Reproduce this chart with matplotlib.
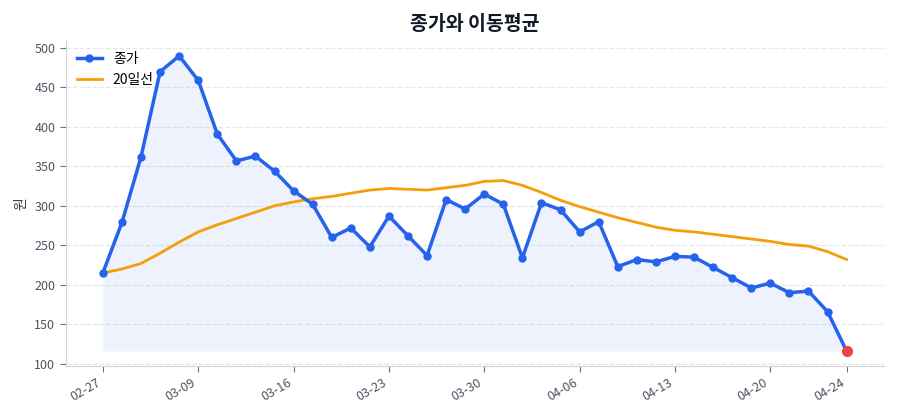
import matplotlib
matplotlib.use("Agg")
import matplotlib.pyplot as plt

plt.rcParams['font.family'] = ['Noto Sans CJK KR', 'DejaVu Sans']

dates = ["02-27", "03-03", "03-04", "03-05", "03-06",
         "03-09", "03-10", "03-11", "03-12", "03-13",
         "03-16", "03-17", "03-18", "03-19", "03-20",
         "03-23", "03-24", "03-25", "03-26", "03-27",
         "03-30", "03-31", "04-01", "04-02", "04-03",
         "04-06", "04-07", "04-08", "04-09", "04-10",
         "04-13", "04-14", "04-15", "04-16", "04-17",
         "04-20", "04-21", "04-22", "04-23", "04-24"]

close = [215, 279, 362, 470, 490, 459, 391, 357, 363, 344,
         319, 302, 260, 272, 248, 287, 262, 237, 308, 296,
         315, 302, 234, 304, 295, 267, 280, 223, 232, 229,
         236, 235, 222, 209, 196, 202, 190, 192, 166, 116]

ma20 = [215, 220, 227, 240, 254, 267, 276, 284, 292, 300,
        305, 309, 312, 316, 320, 322, 321, 320, 323, 326,
        331, 332, 326, 317, 307, 299, 292, 285, 279, 273,
        269, 267, 264, 261, 258, 255, 251, 249, 242, 232]

tick_idx = [0, 5, 10, 15, 20, 25, 30, 35, 39]

blue = "#2563eb"
orange = "#f59e0b"
red = "#ef4444"

fig, ax = plt.subplots(figsize=(9, 4.2), dpi=100)
fig.subplots_adjust(left=0.073, right=0.982, top=0.902, bottom=0.129)

x = list(range(len(close)))
ax.fill_between(x, close, min(close), color=blue, alpha=0.08, linewidth=0)
ax.plot(x, close, color=blue, linewidth=2.5, marker="o", markersize=5, label="종가", zorder=3)
ax.plot(x, ma20, color=orange, linewidth=2, label="20일선", zorder=2)
ax.plot(x[-1], close[-1], "o", color=red, markersize=7, zorder=4)

ax.set_xticks(tick_idx)
ax.set_xticklabels([dates[i] for i in tick_idx], rotation=30, ha="right")
ax.set_title("종가와 이동평균", fontsize=14, fontweight="bold", color="#111827", pad=8)
ax.set_ylabel("원", fontsize=10, color="#374151")

ax.grid(axis="y", linestyle="--", color="#e5e7eb", linewidth=0.9)
ax.set_axisbelow(True)
for s in ["top", "right"]:
    ax.spines[s].set_visible(False)
for s in ["left", "bottom"]:
    ax.spines[s].set_color("#d1d5db")
ax.tick_params(colors="#4b5563", labelsize=9, length=4)
ax.tick_params(axis="both", color="#6b7280")

ax.legend(loc="upper left", frameon=False, fontsize=10, handlelength=1.8,
          borderaxespad=0.4, labelspacing=0.5)

fig.savefig("out.png", dpi=100)
